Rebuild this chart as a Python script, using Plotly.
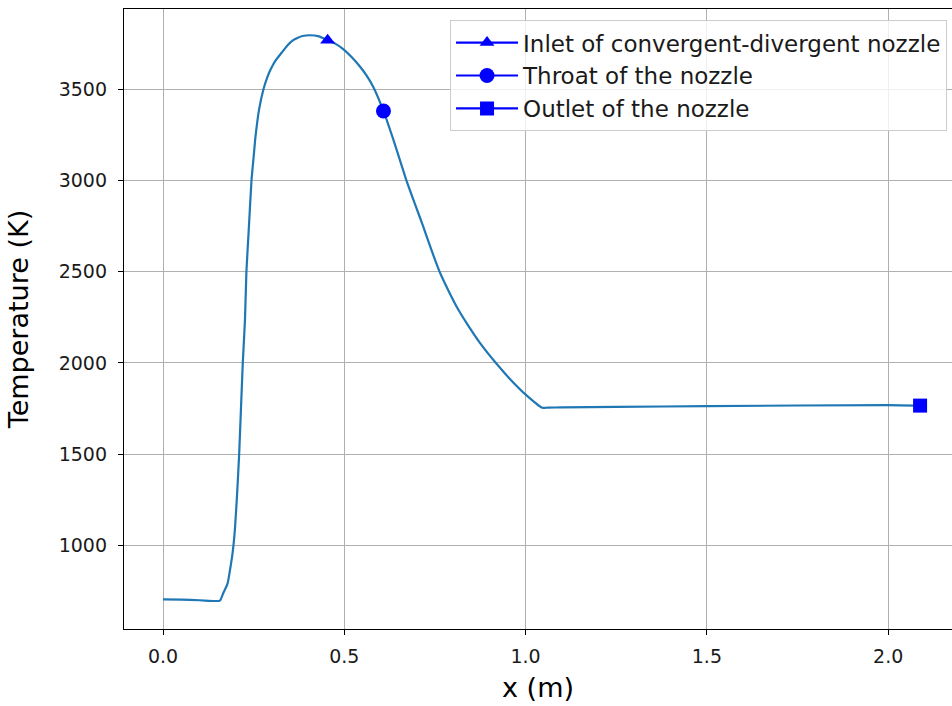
import plotly.graph_objects as go

# Temperature profile along the nozzle axis
x_m = [0.0, 0.05, 0.10, 0.143, 0.157, 0.166, 0.178, 0.186, 0.192, 0.198, 0.204, 0.210, 0.220,
       0.226, 0.230, 0.237, 0.244, 0.250, 0.255, 0.265, 0.277, 0.287, 0.297, 0.312,
       0.327, 0.343, 0.359, 0.372, 0.385, 0.405, 0.430, 0.454, 0.475, 0.497, 0.520,
       0.543, 0.562, 0.580, 0.608, 0.640, 0.671, 0.695, 0.718, 0.741, 0.764, 0.790,
       0.815, 0.840, 0.874, 0.920, 0.960, 0.998, 1.046, 1.060, 1.100, 1.250, 1.5, 2.0, 2.088]
temp_K = [704, 702, 699, 695, 697, 737, 790, 880, 960, 1080, 1270, 1500, 2000,
          2234, 2500, 2750, 3000, 3130, 3239, 3390, 3500, 3563, 3610, 3662,
          3700, 3740, 3769, 3783, 3792, 3796, 3790, 3769, 3750, 3720, 3677,
          3625, 3574, 3513, 3381, 3195, 3002, 2870, 2746, 2615, 2494, 2385,
          2290, 2210, 2110, 1995, 1905, 1830, 1754, 1755, 1756, 1759, 1763, 1769, 1766]

# Marked locations
marker_labels = ["Inlet of convergent-divergent nozzle", "Throat of the nozzle", "Outlet of the nozzle"]
marker_x = [0.454, 0.608, 2.088]
marker_T = [3769, 3381, 1766]
marker_symbols = ["triangle-up", "circle", "square"]
marker_sizes = [13, 15, 14]

x_ticks = [0.0, 0.5, 1.0, 1.5, 2.0]
x_ticktext = ["0.0", "0.5", "1.0", "1.5", "2.0"]
y_ticks = [1000, 1500, 2000, 2500, 3000, 3500]

FONT = "DejaVu Sans"

fig = go.Figure()
fig.add_trace(go.Scatter(x=x_m, y=temp_K, mode="lines",
                         line=dict(color="#1f77b4", width=2.2, shape="spline", smoothing=0.5),
                         showlegend=False, hoverinfo="skip"))
for lab, xv, yv, sym, sz in zip(marker_labels, marker_x, marker_T, marker_symbols, marker_sizes):
    fig.add_trace(go.Scatter(x=[xv], y=[yv], mode="lines+markers", name=lab,
                             line=dict(color="#0000ff", width=2.2),
                             marker=dict(color="#0000ff", symbol=sym, size=sz)))

axis_common = dict(showgrid=True, gridcolor="#b0b0b0", gridwidth=1.2,
                   showline=True, linecolor="black", linewidth=1.3,
                   ticks="outside", ticklen=5, tickwidth=1.2, tickcolor="black",
                   zeroline=False, tickfont=dict(family=FONT, size=19, color="#1a1a1a"))

fig.update_layout(
    width=952, height=706,
    margin=dict(l=124, r=0, t=9, b=77),
    paper_bgcolor="white", plot_bgcolor="white",
    font=dict(family=FONT, color="black"),
    xaxis=dict(range=[-0.1076, 2.176], tickvals=x_ticks, ticktext=x_ticktext,
               mirror=True, ticklabelstandoff=5,
               title=dict(text="x (m)", font=dict(family=FONT, size=27, color="black"), standoff=12),
               **axis_common),
    yaxis=dict(range=[541.4, 3940], tickvals=y_ticks, mirror=False, ticklabelstandoff=7,
               title=dict(text="Temperature (K)", font=dict(family=FONT, size=27, color="black"), standoff=22),
               **axis_common),
    legend=dict(x=0.994, y=0.982, xanchor="right", yanchor="top",
                bgcolor="rgba(255,255,255,0.8)", bordercolor="#cccccc", borderwidth=1,
                font=dict(family=FONT, size=23, color="#1a1a1a"),
                tracegroupgap=0, itemwidth=62),
)

fig.write_html("out.html")
